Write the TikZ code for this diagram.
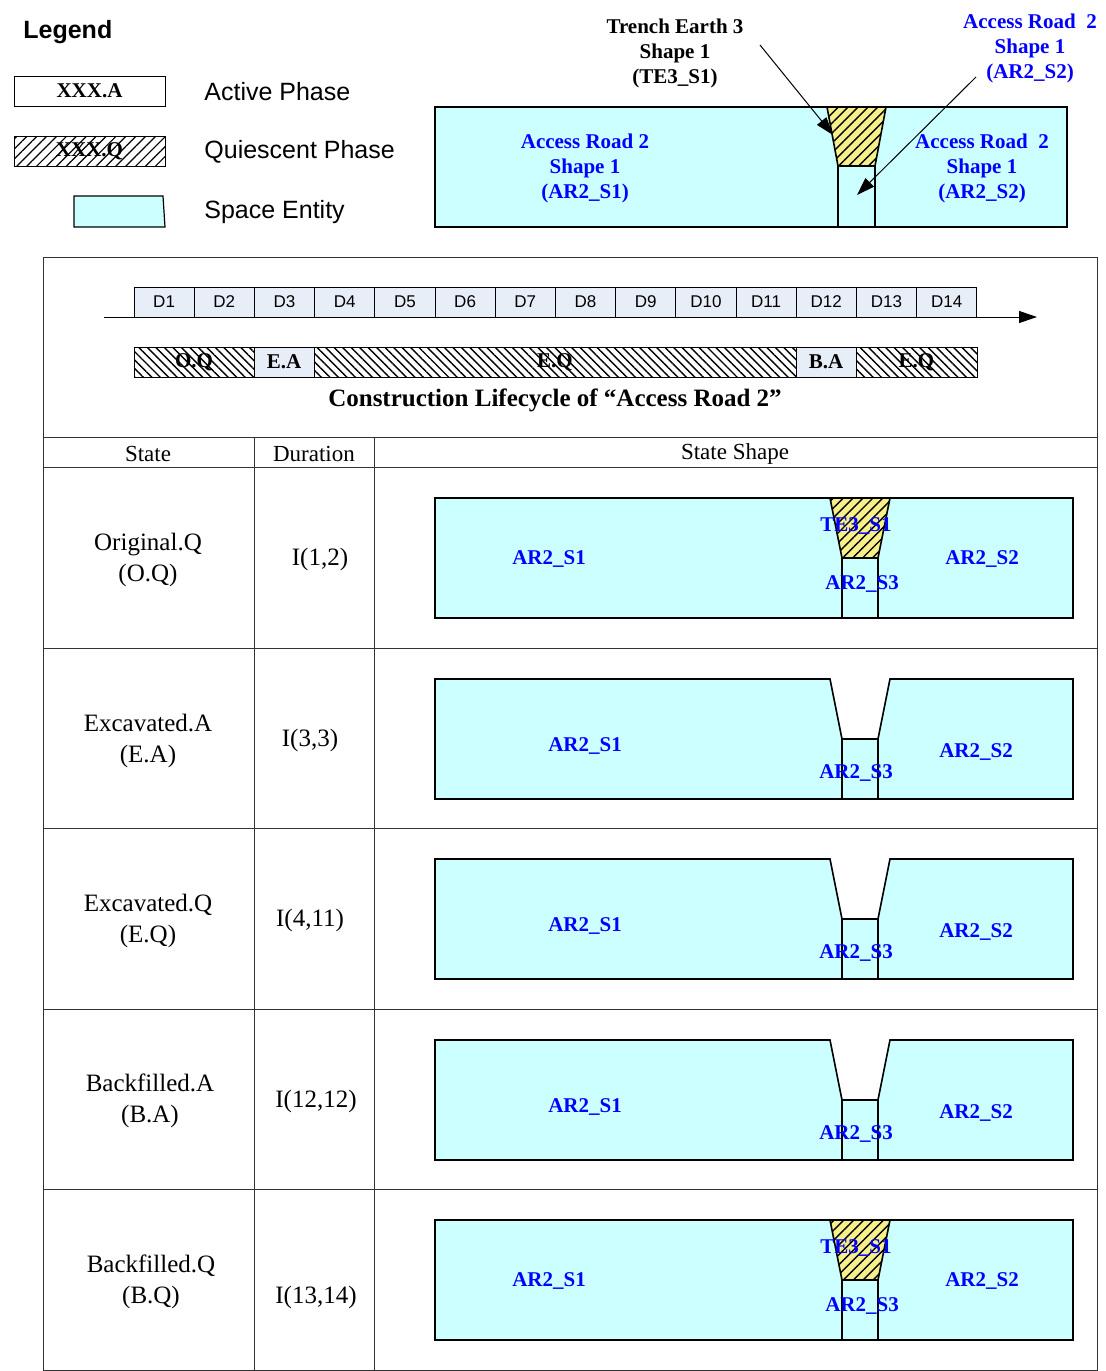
\documentclass[tikz,border=0pt]{standalone}
\usepackage{fontspec}
\setmainfont{Liberation Serif}
\setsansfont{Liberation Sans}
\usepackage{xcolor}
\usepackage{tikz}
\usetikzlibrary{arrows.meta,patterns,patterns.meta,positioning}

\definecolor{spacecyan}{HTML}{CCFFFF}
\definecolor{dayfill}{HTML}{E8EEF8}
\definecolor{trenchyellow}{HTML}{F7F08A}
\definecolor{labelblue}{HTML}{0000FF}

\begin{document}
\begin{tikzpicture}[
    x=0.5pt, y=-0.5pt,
    space/.style={draw, line width=0.8pt, fill=spacecyan},
    trench/.style={draw, line width=0.8pt, fill=trenchyellow, postaction={pattern={Lines[angle=45,distance=3.5pt,line width=0.7pt]}}},
    legtext/.style={anchor=west, inner sep=0pt, font=\sffamily\fontsize{12.5}{15}\selectfont},
    daycell/.style={rectangle, draw, line width=0.5pt, fill=dayfill, minimum width=30.1pt, minimum height=15pt, inner sep=0pt, font=\sffamily\fontsize{8.5}{10}\selectfont},
    phase/.style={rectangle, draw, line width=0.5pt, minimum height=15pt, inner sep=0pt, font=\bfseries\fontsize{10.5}{12}\selectfont},
    quiet/.style={phase, pattern={Lines[angle=-45,distance=3pt,line width=0.7pt]}},
    bluelbl/.style={align=center, text=labelblue, font=\bfseries\fontsize{10.5}{12.5}\selectfont, inner sep=0pt},
    blacklbl/.style={align=center, font=\bfseries\fontsize{10.5}{12.5}\selectfont, inner sep=0pt},
    cell/.style={align=center, font=\fontsize{12.5}{15.5}\selectfont, inner sep=0pt},
    arrow/.style={-{Triangle[length=9pt,width=6pt]}, line width=0.5pt}
]
    \useasboundingbox (0,0) rectangle (1105,1371);

    % Legend
    \node[legtext, font=\sffamily\bfseries\fontsize{12.5}{15}\selectfont] (legend) at (23,32) {Legend};
    \node[phase, minimum width=75.5pt] (actbox) at (89.5,91) {XXX.A};
    \node[legtext] (acttxt) at (204,92) {Active Phase};
    \node[phase, minimum width=75.5pt, pattern={Lines[angle=45,distance=3.5pt,line width=0.6pt]}] (quibox) at (89.5,151.5) {XXX.Q};
    \node[legtext] (quitxt) at (204,152) {Quiescent Phase};
    \draw[space, line width=0.6pt] (74,196) -- (163,196) -- (165,227) -- (74,227) -- cycle;
    \node[legtext] (spctxt) at (204,212) {Space Entity};

    % Top shape
    \draw[space] (435,107) rectangle (1067,227);
    \draw[trench] (827,107) -- (886,107) -- (875,166) -- (838,166) -- cycle;
    \draw[line width=0.6pt] (838,166) -- (838,227) (875,166) -- (875,227);
    \node[bluelbl] (ar2s1top) at (585,168) {Access Road 2\\Shape 1\\(AR2\_S1)};
    \node[bluelbl] (ar2s2top) at (982,168) {Access Road\ \ 2\\Shape 1\\(AR2\_S2)};
    \node[blacklbl] (te3lbl) at (675,53) {Trench Earth 3\\Shape 1\\(TE3\_S1)};
    \node[bluelbl] (ar2lbl) at (1030,48) {Access Road\ \ 2\\Shape 1\\(AR2\_S2)};
    \coordinate (te3from) at (760,45);
    \coordinate (te3tip) at (833,135);
    \coordinate (s3from) at (976,77);
    \coordinate (s3tip) at (857,195);
    \draw[arrow] (te3from) -- (te3tip);
    \draw[arrow] (s3from) -- (s3tip);

    % Table frame
    \draw[line width=0.5pt, black!80] (43,257) rectangle (1097,1370);
    \foreach \ly in {437,467,648,828,1009,1189}
        \draw[line width=0.5pt, black!80] (43,\ly) -- (1097,\ly);
    \draw[line width=0.5pt, black!80] (254,437) -- (254,1370) (374,437) -- (374,1370);

    % Timeline
    \foreach \i in {1,...,14}
        \node[daycell] (d\i) at ({134+60.2*(\i-0.5)},302) {D\i};
    \coordinate (axstart) at (104,317);
    \coordinate (axend) at (1037,317);
    \draw[arrow] (axstart) -- (axend);

    % Phases
    \node[quiet, minimum width=60pt] (oq) at (194,362) {O.Q};
    \node[phase, fill=dayfill, minimum width=30pt] (ea) at (284,362) {E.A};
    \node[quiet, minimum width=241pt] (eq) at (555,362) {E.Q};
    \node[phase, fill=dayfill, minimum width=30pt] (ba) at (826,362) {B.A};
    \node[quiet, minimum width=60.5pt] (bq) at (916.5,362) {E.Q};
    \node[font=\bfseries\fontsize{12.5}{15}\selectfont] (title) at (555,400) {Construction Lifecycle of “Access Road 2”};

    % Header
    \node[cell, font=\fontsize{11.5}{14}\selectfont] (hstate) at (148,454) {State};
    \node[cell, font=\fontsize{11.5}{14}\selectfont] (hdur) at (314,454) {Duration};
    \node[cell, font=\fontsize{11.5}{14}\selectfont] (hshape) at (735,454) {State Shape};

    % States and durations
    \node[cell] (st1) at (148,559.5) {Original.Q\\(O.Q)};
    \node[cell] (du1) at (320,559) {I(1,2)};
    \node[cell] (st2) at (148,740.5) {Excavated.A\\(E.A)};
    \node[cell] (du2) at (310,740) {I(3,3)};
    \node[cell] (st3) at (148,920.5) {Excavated.Q\\(E.Q)};
    \node[cell] (du3) at (310,920) {I(4,11)};
    \node[cell] (st4) at (150,1101) {Backfilled.A\\(B.A)};
    \node[cell] (du4) at (316,1101) {I(12,12)};
    \node[cell] (st5) at (151,1281.5) {Backfilled.Q\\(B.Q)};
    \node[cell] (du5) at (316,1297) {I(13,14)};

    % Quiescent shapes (with trench earth)
    \foreach \t/\r in {498/1, 1220/5} {
        \draw[space] (435,\t) rectangle (1073,\t+120);
        \draw[trench] (830,\t) -- (890,\t) -- (878,\t+60) -- (842,\t+60) -- cycle;
        \draw[line width=0.8pt] (842,\t+60) -- (842,\t+120) (878,\t+60) -- (878,\t+120);
        \node[bluelbl] (s1-\r) at (549,\t+61) {AR2\_S1};
        \node[bluelbl] (s2-\r) at (982,\t+61) {AR2\_S2};
        \node[bluelbl] (te-\r) at (856,\t+28) {TE3\_S1};
        \node[bluelbl] (s3-\r) at (862,\t+86) {AR2\_S3};
    }

    % Excavated shapes
    \foreach \t/\r in {679/2, 859/3, 1040/4} {
        \draw[space] (435,\t) -- (830,\t) -- (842,\t+60) -- (842,\t+120) -- (435,\t+120) -- cycle;
        \draw[space] (890,\t) -- (1073,\t) -- (1073,\t+120) -- (878,\t+120) -- (878,\t+60) -- cycle;
        \draw[space] (842,\t+60) rectangle (878,\t+120);
        \node[bluelbl] (s1-\r) at (585,\t+67) {AR2\_S1};
        \node[bluelbl] (s2-\r) at (976,\t+73) {AR2\_S2};
        \node[bluelbl] (s3-\r) at (856,\t+94) {AR2\_S3};
    }
\end{tikzpicture}
\end{document}
